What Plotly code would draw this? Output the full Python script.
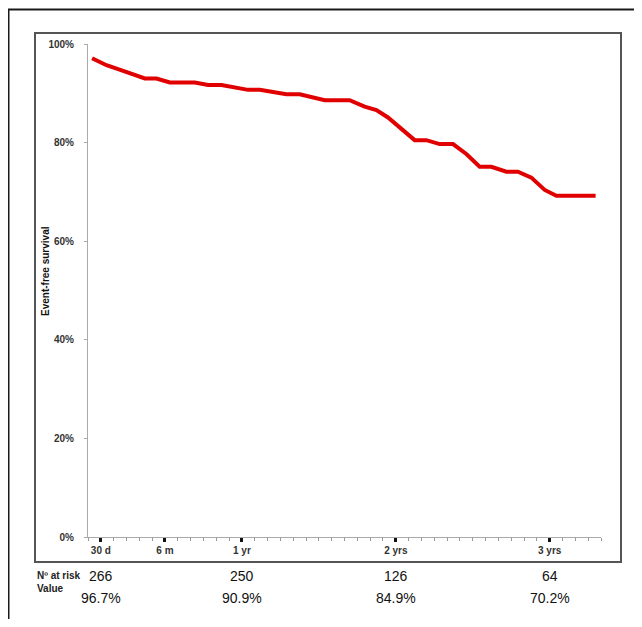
import plotly.graph_objects as go

# ---- data (months since start, event-free survival %) ----
months = [0.32, 1.44, 2.35, 4.43, 5.34, 6.38, 8.33, 9.36, 10.41, 12.48, 13.39,
          14.95, 15.47, 16.51, 18.46, 20.40, 21.57, 22.49, 23.39, 25.47, 26.38,
          27.42, 28.46, 29.50, 30.54, 31.45, 32.62, 33.52, 34.57, 35.61, 36.52, 39.58]
survival = [97.1, 95.7, 94.9, 93.0, 93.0, 92.2, 92.2, 91.7, 91.7, 90.7, 90.7,
            90.0, 89.8, 89.8, 88.6, 88.6, 87.3, 86.6, 85.1, 80.5, 80.5,
            79.7, 79.7, 77.7, 75.1, 75.1, 74.1, 74.1, 72.9, 70.4, 69.2, 69.2]

tick_months = [1, 6, 12, 24, 36]
tick_labels = ["30 d", "6 m", "1 yr", "2 yrs", "3 yrs"]

risk_months = [1, 12, 24, 36]
n_at_risk = ["266", "250", "126", "64"]
risk_values = ["96.7%", "90.9%", "84.9%", "70.2%"]

y_ticks = [0, 20, 40, 60, 80, 100]
y_labels = ["0%", "20%", "40%", "60%", "80%", "100%"]

FONT = "Liberation Sans Narrow, Arial Narrow, Liberation Sans, sans-serif"

fig = go.Figure()
fig.add_trace(go.Scatter(x=months, y=survival, mode="lines",
                         line=dict(color="#e00000", width=4), hoverinfo="skip"))

OFF = 8  # page body margin
W, H = 642 - OFF, 627 - 2 * OFF
# target screen positions of plot area
SX0, SX1, SY0, SY1 = 88, 601, 44, 537
L, T = SX0 - OFF, SY0 - OFF
R, B = W - (SX1 - OFF), H - (SY1 - OFF)
pw, ph = SX1 - SX0, SY1 - SY0

def px(xs):
    return (xs - SX0) / pw

def py(ys):
    return (SY1 - ys) / ph

shapes = [
    # outer frame (top + left visible)
    dict(type="line", xref="paper", yref="paper", x0=px(8), x1=px(660), y0=py(9.5), y1=py(9.5),
         line=dict(color="#1a1a1a", width=2)),
    dict(type="line", xref="paper", yref="paper", x0=px(8.5), x1=px(8.5), y0=py(9.5), y1=py(640),
         line=dict(color="#1a1a1a", width=2)),
    # inner box
    dict(type="rect", xref="paper", yref="paper", x0=px(35), x1=px(621), y0=py(33), y1=py(562),
         line=dict(color="#555555", width=2)),
]

annotations = [
    dict(text="Event-free survival", xref="paper", yref="paper", x=px(45), y=py(271),
         xanchor="center", yanchor="middle",
         textangle=-90, showarrow=False, font=dict(family=FONT, size=10, color="#111", weight="bold")),
    dict(text="Nº at risk", xref="paper", yref="paper", x=px(35), y=py(575),
         xanchor="left", yanchor="middle",
         showarrow=False, font=dict(family=FONT, size=10, color="#222", weight="bold")),
    dict(text="Value", xref="paper", yref="paper", x=px(35), y=py(588),
         xanchor="left", yanchor="middle",
         showarrow=False, font=dict(family=FONT, size=10, color="#222", weight="bold")),
]
for m, n, v in zip(risk_months, n_at_risk, risk_values):
    annotations.append(dict(text=n, xref="x", yref="paper", x=m, y=py(576), showarrow=False,
                            xanchor="center", yanchor="middle",
                            font=dict(family=FONT, size=14, color="#111")))
    annotations.append(dict(text=v, xref="x", yref="paper", x=m, y=py(598), showarrow=False,
                            xanchor="center", yanchor="middle",
                            font=dict(family=FONT, size=14, color="#111")))

fig.update_layout(
    width=W, height=H,
    margin=dict(l=L, r=R, t=T, b=B, autoexpand=False),
    paper_bgcolor="white", plot_bgcolor="white",
    showlegend=False,
    shapes=shapes,
    annotations=annotations,
    xaxis=dict(range=[0, 40], showgrid=False, zeroline=False,
               showline=True, linecolor="#aaaaaa", linewidth=1,
               tickvals=tick_months, ticktext=tick_labels,
               ticks="outside", ticklen=4, tickwidth=3, tickcolor="#111",
               minor=dict(dtick=1, tick0=0, ticks="outside", ticklen=3, tickcolor="#999", tickwidth=1),
               tickfont=dict(family=FONT, size=10, color="#333", weight="bold")),
    yaxis=dict(range=[0, 100], showgrid=False, zeroline=False,
               showline=True, linecolor="#aaaaaa", linewidth=1,
               tickvals=y_ticks, ticktext=y_labels,
               ticks="outside", ticklen=3, tickcolor="#aaaaaa",
               ticklabelstandoff=8,
               tickfont=dict(family=FONT, size=10, color="#333", weight="bold")),
)

fig.write_html("out.html")
